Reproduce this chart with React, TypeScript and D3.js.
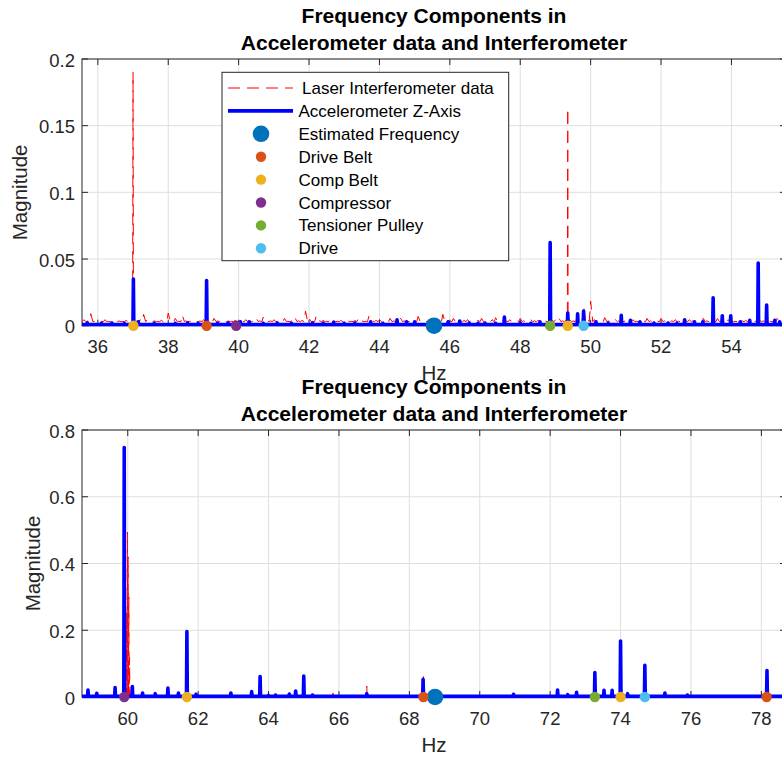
import React from 'react';
import * as d3 from 'd3';

const W = 782;
const H = 758;
const FONT = '"Liberation Sans", Arial, Helvetica, sans-serif';

// ---------- Shared text ----------
const titleLines = ['Frequency Components in', 'Accelerometer data and Interferometer'];
const xLabel = 'Hz';
const yLabel = 'Magnitude';
const legendLabels = [
  'Laser Interferometer data',
  'Accelerometer Z-Axis',
  'Estimated Frequency',
  'Drive Belt',
  'Comp Belt',
  'Compressor',
  'Tensioner Pulley',
  'Drive',
];
const markerNames = ['Estimated Frequency', 'Drive Belt', 'Comp Belt', 'Compressor', 'Tensioner Pulley', 'Drive'];
const markerColors = ['#0072BD', '#D95319', '#EDB120', '#7E2F8E', '#77AC30', '#4DBEEE'];

// ---------- Top panel data ----------
const topXDomain = [35.55, 55.55];
const topYDomain = [0, 0.2];
const topXTicks = [36, 38, 40, 42, 44, 46, 48, 50, 52, 54];
const topYTicks = [0, 0.05, 0.1, 0.15, 0.2];

const topLaserStart = 35.5;
const topLaserStep = 0.1;
const topLaserFloor = 0.003;
const topLaserNoise = [
  0.0035,
  0.0045, 0.0035, 0.009, 0.0032, 0.0038, 0.0033, 0.0045, 0.0032, 0.0036, 0.004,
  0.0036, 0.0032, 0.004, 0.0035, 0.0045, 0.0035, 0.0045, 0.0085, 0.0045, 0.0033,
  0.0036, 0.0032, 0.004, 0.0035, 0.0095, 0.0036, 0.0055, 0.0033, 0.008, 0.0036,
  0.0033, 0.004, 0.0032, 0.0036, 0.0045, 0.0033, 0.0036, 0.0055, 0.0036, 0.0045,
  0.0032, 0.0036, 0.0033, 0.004, 0.0036, 0.0032, 0.0045, 0.0036, 0.0033, 0.0055,
  0.0036, 0.0065, 0.0033, 0.0036, 0.0045, 0.0032, 0.0036, 0.0055, 0.0033, 0.0036,
  0.006, 0.0036, 0.004, 0.011, 0.0055, 0.0033, 0.007, 0.0036, 0.004, 0.0033,
  0.0055, 0.0036, 0.0032, 0.004, 0.0045, 0.0036, 0.0033, 0.004, 0.0055, 0.0036,
  0.0033, 0.007, 0.0036, 0.004, 0.0045, 0.0033, 0.0036, 0.0055, 0.0036, 0.004,
  0.0055, 0.0036, 0.0033, 0.004, 0.0036, 0.007, 0.0036, 0.0033, 0.0045, 0.0036,
  0.004, 0.0036, 0.0085, 0.0045, 0.0036, 0.0055, 0.0033, 0.0036, 0.004, 0.0045,
  0.0036, 0.0033, 0.004, 0.0055, 0.0036, 0.0033, 0.0045, 0.006, 0.0036, 0.004,
  0.0036, 0.0045, 0.0033, 0.004, 0.0055, 0.0036, 0.0033, 0.0045, 0.0036, 0.004,
  0.0045, 0.0036, 0.0033, 0.004, 0.0045, 0.0055, 0.0036, 0.004, 0.0045, 0.0036,
  0.0045, 0.0036, 0.0148, 0.0055, 0.0185, 0.0045, 0.0036, 0.004, 0.006, 0.0036,
  0.004, 0.0045, 0.0036, 0.0033, 0.0055, 0.0036, 0.0045, 0.0033, 0.004, 0.0036,
  0.0055, 0.0036, 0.004, 0.0033, 0.0055, 0.0036, 0.0045, 0.0036, 0.0045, 0.0033,
  0.0036, 0.004, 0.0045, 0.0036, 0.0033, 0.004, 0.0055, 0.0036, 0.0045, 0.0036,
  0.0055, 0.0036, 0.004, 0.0045, 0.0036, 0.0033, 0.0055, 0.0036, 0.004, 0.0045,
  0.0045, 0.0036, 0.004, 0.0036, 0.0045, 0.0033, 0.004, 0.0055, 0.0036, 0.0045,
];
const topLaserPeaks: [number, number][] = [
  [37.0, 0.19],
  [49.35, 0.163],
];

const topAccelFloor = 0.0009;
const topAccelPeaks: [number, number][] = [
  [35.7, 0.002], [36.1, 0.0018], [36.4, 0.002], [36.75, 0.0018], [37.01, 0.035], [37.15, 0.003],
  [37.6, 0.0018], [38.2, 0.0018], [38.55, 0.002], [38.85, 0.0018],
  [39.09, 0.0338], [39.4, 0.0018], [39.7, 0.002], [40.05, 0.003], [40.3, 0.003], [40.7, 0.0018], [41.1, 0.002],
  [41.5, 0.0018], [42.1, 0.002], [42.4, 0.0018], [42.7, 0.0025], [43.0, 0.0018], [43.3, 0.002], [43.75, 0.003], [44.1, 0.0018], [44.5, 0.0045],
  [44.77, 0.003], [45.0, 0.003], [45.95, 0.003], [46.28, 0.0035], [46.55, 0.002], [46.8, 0.0018],
  [47.0, 0.002], [47.3, 0.0018], [47.55, 0.0065], [48.0, 0.002], [48.3, 0.0018], [48.56, 0.003], [48.85, 0.0623],
  [49.35, 0.0095], [49.63, 0.009], [49.8, 0.011], [50.15, 0.003], [50.5, 0.0018], [50.87, 0.0078],
  [51.13, 0.004], [51.4, 0.003], [51.8, 0.002], [52.2, 0.002], [52.45, 0.0018], [52.67, 0.0045],
  [52.95, 0.003], [53.19, 0.003], [53.48, 0.021], [53.74, 0.0075], [53.98, 0.0075],
  [54.25, 0.003], [54.52, 0.004], [54.76, 0.047], [55.0, 0.0155], [55.23, 0.004],
  [55.37, 0.003],
];

const topEstimated = [45.55];
const topDriveBelt = [39.09];
const topCompBelt = [37.01, 49.35];
const topCompressor = [39.93];
const topTensioner = [48.85];
const topDrive = [49.8];

// ---------- Bottom panel data ----------
const botXDomain = [58.7, 78.7];
const botYDomain = [0, 0.8];
const botXTicks = [60, 62, 64, 66, 68, 70, 72, 74, 76, 78];
const botYTicks = [0, 0.2, 0.4, 0.6, 0.8];

const botLaserFloor = 0.002;
const botLaserPeaks: [number, number][] = [
  [59.97, 0.25], [59.99, 0.494], [60.01, 0.42], [60.03, 0.3], [60.05, 0.12],
  [64.0, 0.008], [65.83, 0.012], [66.4, 0.006], [66.79, 0.033], [67.0, 0.005],
  [67.73, 0.006], [68.4, 0.068], [69.9, 0.005],
];

const botAccelFloor = 0.002;
const botAccelPeaks: [number, number][] = [
  [58.87, 0.021], [59.12, 0.011], [59.64, 0.028], [59.9, 0.7475], [60.13, 0.031],
  [60.42, 0.012], [60.78, 0.01], [61.14, 0.027], [61.44, 0.012], [61.68, 0.196],
  [61.94, 0.008], [62.93, 0.012], [63.52, 0.016], [63.76, 0.061], [64.0, 0.005],
  [64.2, 0.006], [64.59, 0.009], [64.77, 0.018], [65.0, 0.063], [65.25, 0.006],
  [66.79, 0.01], [68.39, 0.053], [68.87, 0.01], [70.96, 0.008], [72.21, 0.021],
  [72.5, 0.007], [72.75, 0.014], [73.27, 0.073], [73.53, 0.02], [73.76, 0.02],
  [74.0, 0.168], [74.2, 0.01], [74.69, 0.095], [75.26, 0.012], [75.9, 0.006],
  [78.16, 0.079],
];

const botEstimated = [68.73];
const botDriveBelt = [68.4, 78.15];
const botCompBelt = [61.68, 74.0];
const botCompressor = [59.9];
const botTensioner = [73.27];
const botDrive = [74.69];

// ---------- helpers ----------
function spikeSeries(floor: number, peaks: [number, number][], domain: number[], hw: number) {
  const pts: [number, number][] = [[domain[0] - 1, floor]];
  [...peaks].sort((a, b) => a[0] - b[0]).forEach(([f, v]) => {
    pts.push([f - hw, floor], [f, v], [f + hw, floor]);
  });
  pts.push([domain[1] + 1, floor]);
  return pts;
}

// each sample of the noise grid is drawn as a sawtooth tooth from the floor
function gridSeries(start: number, step: number, values: number[], floor: number, peaks: [number, number][], hw: number) {
  const pts: [number, number][] = [];
  values.forEach((v, i) => {
    const f = start + i * step;
    if (peaks.some(([pf]) => Math.abs(pf - f) < 0.04)) return;
    pts.push([f - step * 0.4, floor], [f, v]);
  });
  peaks.forEach(([f, v]) => {
    pts.push([f - hw, floor], [f, v], [f + hw, floor]);
  });
  return pts.sort((a, b) => a[0] - b[0]);
}

type PanelProps = {
  id: string;
  top: number;
  bottom: number;
  xDomain: number[];
  yDomain: number[];
  xTicks: number[];
  yTicks: number[];
  laser: [number, number][];
  accel: [number, number][];
  markers: number[][];
  yLabelX: number;
};

const LEFT = 82;
const RIGHT = 786;

function Panel(p: PanelProps) {
  const x = d3.scaleLinear().domain(p.xDomain).range([LEFT, RIGHT]);
  const y = d3.scaleLinear().domain(p.yDomain).range([p.bottom, p.top]);
  const line = d3
    .line<[number, number]>()
    .x((d) => x(d[0]))
    .y((d) => y(d[1]));
  const axisColor = '#262626';
  const gridColor = '#DFDFDF';
  const tl = 6;
  const cx = (LEFT + RIGHT) / 2;
  const cy = (p.top + p.bottom) / 2;
  return (
    <g>
      <defs>
        <clipPath id={`clip-${p.id}`}>
          <rect x={LEFT} y={p.top} width={RIGHT - LEFT} height={p.bottom - p.top + 2.5} />
        </clipPath>
      </defs>
      <rect x={LEFT} y={p.top} width={RIGHT - LEFT} height={p.bottom - p.top} fill="#fff" />
      {/* grid */}
      {p.xTicks.map((t) => (
        <line key={`gx${t}`} x1={x(t)} x2={x(t)} y1={p.top} y2={p.bottom} stroke={gridColor} strokeWidth={1} />
      ))}
      {p.yTicks.map((t) => (
        <line key={`gy${t}`} x1={LEFT} x2={RIGHT} y1={y(t)} y2={y(t)} stroke={gridColor} strokeWidth={1} />
      ))}
      {/* axes box */}
      <rect x={LEFT} y={p.top} width={RIGHT - LEFT} height={p.bottom - p.top} fill="none" stroke={axisColor} strokeWidth={1} />
      {p.xTicks.map((t) => (
        <g key={`tx${t}`}>
          <line x1={x(t)} x2={x(t)} y1={p.bottom} y2={p.bottom - tl} stroke={axisColor} />
          <line x1={x(t)} x2={x(t)} y1={p.top} y2={p.top + tl} stroke={axisColor} />
          <text x={x(t)} y={p.bottom + 27.5} textAnchor="middle" fontSize={18.5} fill={axisColor} fontFamily={FONT}>
            {String(t)}
          </text>
        </g>
      ))}
      {p.yTicks.map((t) => (
        <g key={`ty${t}`}>
          <line x1={LEFT} x2={LEFT + tl} y1={y(t)} y2={y(t)} stroke={axisColor} />
          <line x1={RIGHT} x2={RIGHT - tl} y1={y(t)} y2={y(t)} stroke={axisColor} />
          <text x={75} y={y(t) + 7.5} textAnchor="end" fontSize={18.5} fill={axisColor} fontFamily={FONT}>
            {String(t)}
          </text>
        </g>
      ))}
      {/* data */}
      <g clipPath={`url(#clip-${p.id})`}>
        <path d={line(p.laser) || ''} fill="none" stroke="#FF0000" strokeWidth={1} strokeDasharray="12,7" strokeLinejoin="round" />
        <path d={line(p.accel) || ''} fill="none" stroke="#0000FF" strokeWidth={3.6} strokeLinejoin="round" />
      </g>
      {/* markers */}
      {p.markers.map((arr, k) =>
        arr.map((f, j) => (
          <circle key={`m${k}-${j}`} cx={x(f)} cy={y(0)} r={k === 0 ? 8.3 : 5.2} fill={markerColors[k]} />
        ))
      )}
      {/* titles and labels */}
      <text x={cx} y={p.top - 36.3} textAnchor="middle" fontSize={21} fontWeight="bold" fill="#000" fontFamily={FONT}>
        {titleLines[0]}
      </text>
      <text x={cx} y={p.top - 9.3} textAnchor="middle" fontSize={21} fontWeight="bold" fill="#000" fontFamily={FONT}>
        {titleLines[1]}
      </text>
      <text x={cx} y={p.bottom + 54.7} textAnchor="middle" fontSize={20.5} fill={axisColor} fontFamily={FONT}>
        {xLabel}
      </text>
      <text
        transform={`translate(${p.yLabelX},${cy}) rotate(-90)`}
        textAnchor="middle"
        fontSize={20.5}
        fill={axisColor}
        fontFamily={FONT}
      >
        {yLabel}
      </text>
    </g>
  );
}

function Legend() {
  const x0 = 222;
  const y0 = 72.3;
  const w = 286.7;
  const h = 188.4;
  const rowY = (i: number) => 88 + i * 22.9;
  return (
    <g>
      <rect x={x0} y={y0} width={w} height={h} fill="#fff" stroke="#262626" strokeWidth={1} />
      <line x1={228} x2={293} y1={rowY(0)} y2={rowY(0)} stroke="#FF0000" strokeWidth={1} strokeDasharray="12,7" />
      <line x1={228} x2={293} y1={rowY(1)} y2={rowY(1)} stroke="#0000FF" strokeWidth={3.6} />
      {markerNames.map((n, k) => (
        <circle key={n} cx={261} cy={rowY(k + 2)} r={k === 0 ? 8.3 : 5.2} fill={markerColors[k]} />
      ))}
      {legendLabels.map((l, i) => (
        <text key={l} x={i === 0 ? 302 : 298.5} y={rowY(i) + 6} fontSize={17} fill="#000" fontFamily={FONT}>
          {l}
        </text>
      ))}
    </g>
  );
}

export default function App() {
  const topLaser = gridSeries(topLaserStart, topLaserStep, topLaserNoise, topLaserFloor, topLaserPeaks, 0.012);
  const topAccel = spikeSeries(topAccelFloor, topAccelPeaks, topXDomain, 0.012);
  const botLaser = spikeSeries(botLaserFloor, botLaserPeaks, botXDomain, 0.012);
  const botAccel = spikeSeries(botAccelFloor, botAccelPeaks, botXDomain, 0.012);
  return (
    <svg
      width={W}
      height={H}
      viewBox={`0 0 ${W} ${H}`}
      style={{ position: 'absolute', left: 0, top: 0, background: '#fff', overflow: 'hidden' }}
    >
      <rect x={0} y={0} width={W} height={H} fill="#fff" />
      <Panel
        id="top"
        top={59}
        bottom={325.7}
        xDomain={topXDomain}
        yDomain={topYDomain}
        xTicks={topXTicks}
        yTicks={topYTicks}
        laser={topLaser}
        accel={topAccel}
        markers={[topEstimated, topDriveBelt, topCompBelt, topCompressor, topTensioner, topDrive]}
        yLabelX={27}
      />
      <Panel
        id="bot"
        top={430}
        bottom={697}
        xDomain={botXDomain}
        yDomain={botYDomain}
        xTicks={botXTicks}
        yTicks={botYTicks}
        laser={botLaser}
        accel={botAccel}
        markers={[botEstimated, botDriveBelt, botCompBelt, botCompressor, botTensioner, botDrive]}
        yLabelX={39.5}
      />
      <Legend />
    </svg>
  );
}
